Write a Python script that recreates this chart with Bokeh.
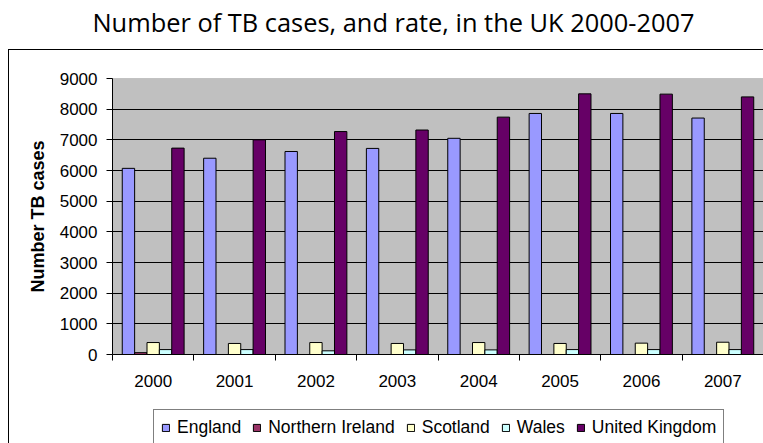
import numpy as np
from bokeh.plotting import figure
from bokeh.models import (ColumnDataSource, FixedTicker, Legend, LegendItem,
                          InlineStyleSheet, BoxAnnotation, Label)
from bokeh.transform import dodge
from bokeh.embed import file_html
from bokeh.resources import INLINE

# ---- data ----
years = ["2000", "2001", "2002", "2003", "2004", "2005", "2006", "2007"]
england = [6070, 6400, 6620, 6720, 7050, 7860, 7860, 7710]
northern_ireland = [60, np.nan, np.nan, np.nan, np.nan, np.nan, np.nan, np.nan]
scotland = [390, 360, 390, 360, 390, 360, 370, 400]
wales = [160, 160, 120, 150, 150, 160, 160, 160]
united_kingdom = [6730, 7000, 7270, 7320, 7740, 8500, 8490, 8400]

series_names = ["England", "Northern Ireland", "Scotland", "Wales", "United Kingdom"]
series_keys = ["england", "ni", "scotland", "wales", "uk"]
series_colors = ["#9999FF", "#993366", "#FFFFCC", "#CCFFFF", "#660066"]
y_ticks = [0, 1000, 2000, 3000, 4000, 5000, 6000, 7000, 8000, 9000]

title_text = "Number of TB cases, and rate, in the UK 2000-2007"
y_label = "Number TB cases"

# ---- layout (pixels) ----
W, H = 763, 443
PLOT_L, PLOT_T, PLOT_B = 112, 78, 354
n = len(years)
y_min, y_max = y_ticks[0], y_ticks[-1]
px_x = (W - PLOT_L) / n
px_y = (PLOT_B - PLOT_T) / (y_max - y_min)
x_range = (-PLOT_L / px_x, n)
y_range = (y_min - (H - PLOT_B) / px_y, y_max + PLOT_T / px_y)

centers = [i + 0.5 for i in range(n)]
boundaries = [float(i) for i in range(n + 1)]
src = ColumnDataSource(dict(x=centers, england=england, ni=northern_ireland,
                            scotland=scotland, wales=wales, uk=united_kingdom))

p = figure(width=W, height=H, output_backend="svg", toolbar_location=None,
           x_range=x_range, y_range=y_range, min_border=0)
p.background_fill_color = None
p.border_fill_color = None
p.outline_line_color = None

# page background + outer chart-area border (cropped by the window)
p.stylesheets = [InlineStyleSheet(css="""
:host {
  background:
    linear-gradient(#000, #000) 8px 49px / 1px 2000px no-repeat,
    linear-gradient(#000, #000) 8px 49px / 2000px 1px no-repeat,
    #ffffff;
}
""")]

# grey plot area
p.add_layout(BoxAnnotation(left=0, right=n, bottom=y_min, top=y_max,
                           fill_color="#C0C0C0", fill_alpha=1,
                           line_color="#808080", line_width=1, level="image"))

bw = 0.152
offsets = [-2 * bw, -bw, 0, bw, 2 * bw]
items = []
for name, key, color, off in zip(series_names, series_keys, series_colors, offsets):
    r = p.vbar(x=dodge("x", off), top=key, width=bw, source=src,
               fill_color=color, line_color="black", line_width=1)
    items.append(LegendItem(label=name, renderers=[r]))

# y axis at x = 0
yax = p.yaxis[0]
yax.fixed_location = 0
yax.bounds = (y_min, y_max)
yax.ticker = FixedTicker(ticks=y_ticks)
yax.minor_tick_line_color = None
yax.major_tick_in = 0
yax.major_tick_out = 6
yax.major_tick_line_color = "black"
yax.axis_line_color = "black"
yax.major_label_text_font = "Liberation Sans"
yax.major_label_text_font_size = "17px"
yax.major_label_text_color = "black"
yax.major_label_standoff = 9
yax.axis_label = y_label
yax.axis_label_text_font = "Liberation Sans"
yax.axis_label_text_font_size = "18px"
yax.axis_label_text_font_style = "bold"
yax.axis_label_text_color = "black"
yax.axis_label_standoff = 9

# x axis at y = 0: labels at centres, tick marks at category boundaries
xax = p.xaxis[0]
xax.fixed_location = y_min
xax.bounds = (0, n)
xax.ticker = FixedTicker(ticks=centers, minor_ticks=boundaries)
xax.major_label_overrides = {c: y for c, y in zip(centers, years)}
xax.major_tick_line_color = None
xax.major_tick_in = 0
xax.major_tick_out = 0
xax.minor_tick_in = 0
xax.minor_tick_out = 6
xax.minor_tick_line_color = "black"
xax.axis_line_color = "black"
xax.major_label_text_font = "Liberation Sans"
xax.major_label_text_font_size = "17px"
xax.major_label_text_color = "black"
xax.major_label_standoff = 14

# grid
p.xgrid.visible = False
p.ygrid.ticker = FixedTicker(ticks=y_ticks[1:-1])
p.ygrid.cross_bounds = (0, n)
p.ygrid.grid_line_color = "black"
p.ygrid.grid_line_width = 1

# title
p.add_layout(Label(x=393, y=H - 21.5, x_units="screen", y_units="screen",
                   text=title_text, text_align="center", text_baseline="alphabetic",
                   text_font="Open Sans", text_font_size="25.4px", text_color="black"))

# legend
legend = Legend(items=items, orientation="horizontal", location=(153, -3),
                border_line_color="black", border_line_width=1,
                background_fill_color="white", background_fill_alpha=1,
                glyph_width=9, glyph_height=9, label_standoff=7, spacing=11,
                padding=7, label_height=18,
                label_text_font="Liberation Sans", label_text_font_size="17.5px",
                label_text_color="black")
p.add_layout(legend)

open("out.html", "w").write(file_html(p, INLINE))
